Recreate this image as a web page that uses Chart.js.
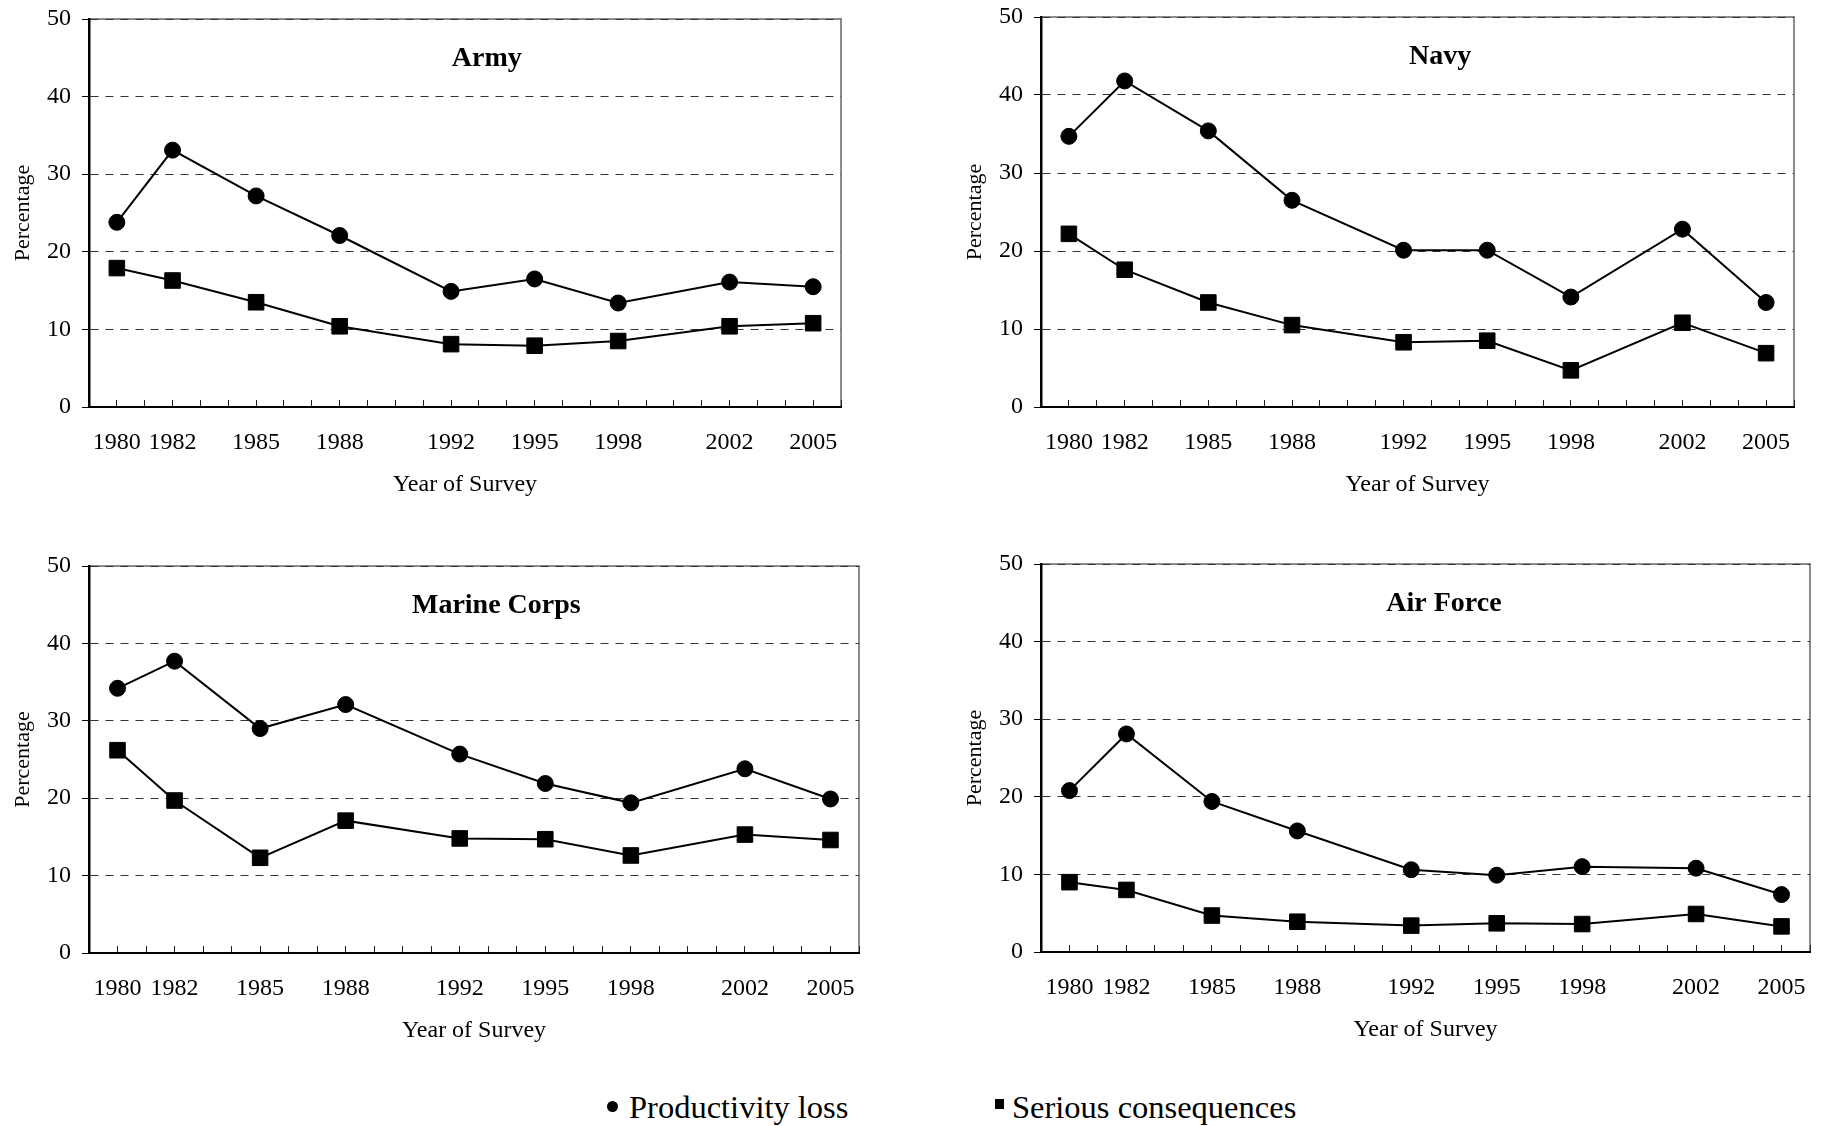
<!DOCTYPE html>
<html>
<head>
<meta charset="utf-8">
<title>Productivity loss and serious consequences by service</title>
<script src="https://cdn.jsdelivr.net/npm/chart.js@4.4.0/dist/chart.umd.min.js"></script>
<style>
  html, body { margin: 0; padding: 0; background: #fff; }
  body { width: 1827px; height: 1126px; position: relative; overflow: hidden; font-family: 'Liberation Serif', 'Times New Roman', serif; }
  canvas { position: absolute; }
  .legend-item { position: absolute; top: 1091px; font-size: 32.5px; line-height: 33px; color: #000; white-space: nowrap; }
  .mark { position: absolute; background: #000; }
</style>
</head>
<body>
<canvas id="army"></canvas>
<canvas id="navy"></canvas>
<canvas id="marine"></canvas>
<canvas id="airforce"></canvas>

<div class="mark" style="left:607px; top:1101px; width:11px; height:11px; border-radius:50%;"></div>
<div class="legend-item" style="left:629px">Productivity loss</div>
<div class="mark" style="left:995px; top:1099px; width:9px; height:10px;"></div>
<div class="legend-item" style="left:1012px">Serious consequences</div>

<script>
const years = [1980, 1982, 1985, 1988, 1992, 1995, 1998, 2002, 2005];
const yAxisMin = 0;
const yAxisMax = 50;

const armyProductivity = [23.8, 33.1, 27.2, 22.1, 14.9, 16.5, 13.4, 16.1, 15.5];
const armySerious = [17.9, 16.3, 13.5, 10.4, 8.1, 7.9, 8.5, 10.4, 10.8];

const navyProductivity = [34.7, 41.8, 35.4, 26.5, 20.1, 20.1, 14.1, 22.8, 13.4];
const navySerious = [22.2, 17.6, 13.4, 10.5, 8.3, 8.5, 4.7, 10.8, 6.9];

const marineProductivity = [34.2, 37.7, 29.0, 32.1, 25.7, 21.9, 19.4, 23.8, 19.9];
const marineSerious = [26.2, 19.7, 12.3, 17.1, 14.8, 14.7, 12.6, 15.3, 14.6];

const airForceProductivity = [20.8, 28.1, 19.4, 15.6, 10.6, 9.9, 11.0, 10.8, 7.4];
const airForceSerious = [9.0, 8.0, 4.7, 3.9, 3.4, 3.7, 3.6, 4.9, 3.3];

// plot-area rectangles in page pixels
const panels = [
    { id: 'army', title: 'Army', left: 89, right: 841, top: 19, bottom: 407, titleFrac: 0.529,
      productivity: armyProductivity, serious: armySerious },
    { id: 'navy', title: 'Navy', left: 1041, right: 1794, top: 17, bottom: 407, titleFrac: 0.530,
      productivity: navyProductivity, serious: navySerious },
    { id: 'marine', title: 'Marine Corps', left: 89, right: 859, top: 566, bottom: 953, titleFrac: 0.529,
      productivity: marineProductivity, serious: marineSerious },
    { id: 'airforce', title: 'Air Force', left: 1041, right: 1810, top: 564, bottom: 952, titleFrac: 0.524,
      productivity: airForceProductivity, serious: airForceSerious }
];

const AXIS_W = 89;   // space left of plot
const TOP_PAD = 19;
const RIGHT_PAD = 15;
const X_AXIS_H = 100;
const SERIF = "'Liberation Serif', 'Times New Roman', serif";

const framePlugin = {
    id: 'frame',
    beforeDraw(chart) {
        const { ctx, chartArea: a } = chart;
        ctx.save();
        ctx.strokeStyle = '#8c8c8c';
        ctx.lineWidth = 2;
        ctx.beginPath();
        ctx.moveTo(a.left, a.top);
        ctx.lineTo(a.right, a.top);
        ctx.lineTo(a.right, a.bottom);
        ctx.stroke();
        ctx.restore();
    }
};

const panelTitlePlugin = {
    id: 'panelTitle',
    afterDraw(chart, args, opts) {
        const { ctx, chartArea: a } = chart;
        ctx.save();
        ctx.font = 'bold 28px ' + SERIF;
        ctx.fillStyle = '#000';
        ctx.textAlign = 'center';
        ctx.textBaseline = 'alphabetic';
        ctx.fillText(opts.text, a.left + (a.right - a.left) * opts.xFrac, a.top + 47);
        ctx.restore();
    }
};

function toPoints(values) {
    return values.map((v, i) => ({ x: years[i], y: v }));
}

function makePanel(p) {
    const canvas = document.getElementById(p.id);
    const plotW = p.right - p.left;
    const plotH = p.bottom - p.top;
    canvas.width = AXIS_W + plotW + RIGHT_PAD;
    canvas.height = TOP_PAD + plotH + X_AXIS_H;
    canvas.style.left = (p.left - AXIS_W) + 'px';
    canvas.style.top = (p.top - TOP_PAD) + 'px';

    new Chart(canvas, {
        type: 'line',
        data: {
            datasets: [{
                label: 'Productivity loss',
                data: toPoints(p.productivity),
                borderColor: '#000',
                backgroundColor: '#000',
                borderWidth: 2,
                tension: 0,
                pointStyle: 'circle',
                pointRadius: 8,
                pointBorderWidth: 1
            }, {
                label: 'Serious consequences',
                data: toPoints(p.serious),
                borderColor: '#000',
                backgroundColor: '#000',
                borderWidth: 2,
                tension: 0,
                pointStyle: 'rect',
                pointRadius: 11,
                pointBorderWidth: 1
            }]
        },
        options: {
            responsive: false,
            animation: false,
            devicePixelRatio: 1,
            layout: { padding: { left: 0, top: TOP_PAD, right: RIGHT_PAD, bottom: 0 } },
            plugins: {
                legend: { display: false },
                tooltip: { enabled: false },
                panelTitle: { text: p.title, xFrac: p.titleFrac }
            },
            scales: {
                x: {
                    type: 'linear',
                    min: 1979,
                    max: 2006,
                    afterFit: (scale) => {
                        scale.height = X_AXIS_H;
                        scale.paddingLeft = 0;
                        scale.paddingRight = 0;
                    },
                    border: { display: true, color: '#000', width: 2 },
                    grid: { drawOnChartArea: false, tickLength: -7, tickColor: '#222', tickWidth: 1 },
                    ticks: {
                        stepSize: 1,
                        autoSkip: false,
                        maxRotation: 0,
                        padding: 28,
                        color: '#000',
                        font: { family: SERIF, size: 24 },
                        callback: (v) => years.includes(v) ? String(v) : ''
                    },
                    title: {
                        display: true,
                        text: 'Year of Survey',
                        color: '#000',
                        font: { family: SERIF, size: 24 },
                        padding: { top: 0, bottom: 8 }
                    }
                },
                y: {
                    min: yAxisMin,
                    max: yAxisMax,
                    afterFit: (scale) => {
                        scale.width = AXIS_W;
                        scale.paddingTop = 0;
                        scale.paddingBottom = 0;
                    },
                    border: { display: true, color: '#000', width: 2.5, dash: [8, 7] },
                    grid: {
                        color: (c) => c.tick && c.tick.value === 0 ? 'rgba(0,0,0,0)' : '#333',
                        lineWidth: 1,
                        tickLength: 7,
                        tickColor: '#000',
                        tickWidth: 1
                    },
                    ticks: {
                        stepSize: 10,
                        padding: 11,
                        color: '#000',
                        font: { family: SERIF, size: 24 }
                    },
                    title: {
                        display: true,
                        text: 'Percentage',
                        color: '#000',
                        font: { family: SERIF, size: 22 },
                        padding: { top: 10, bottom: 0 }
                    }
                }
            }
        },
        plugins: [framePlugin, panelTitlePlugin]
    });
}

panels.forEach(makePanel);
</script>
</body>
</html>
